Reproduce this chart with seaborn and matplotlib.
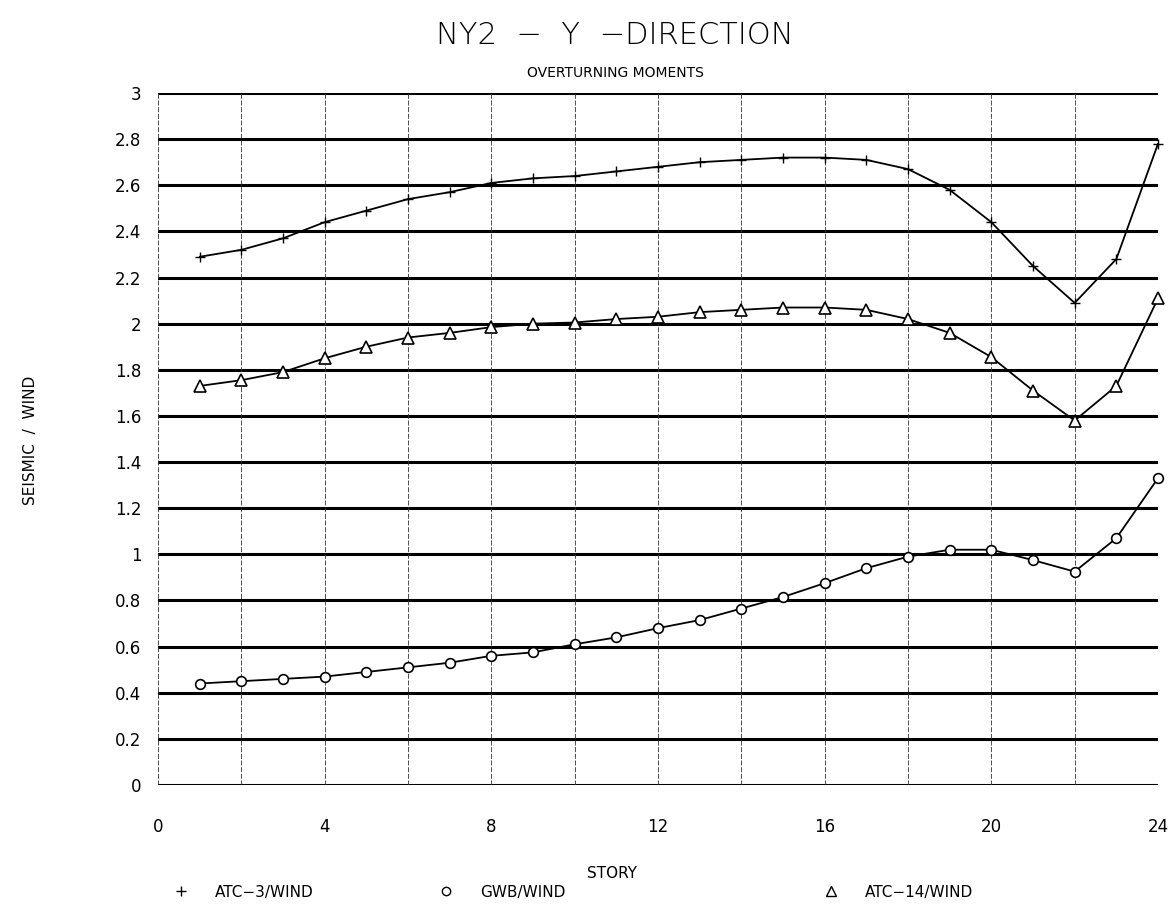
import numpy as np
import pandas as pd
import seaborn as sns
import matplotlib.pyplot as plt
from matplotlib.lines import Line2D

# values
story = list(range(1, 25))
atc3 = [2.29, 2.32, 2.37, 2.44, 2.49, 2.54, 2.57, 2.61, 2.63, 2.64, 2.66, 2.68,
        2.70, 2.71, 2.72, 2.72, 2.71, 2.67, 2.58, 2.44, 2.25, 2.09, 2.28, 2.78]
gwb = [0.44, 0.45, 0.46, 0.47, 0.49, 0.51, 0.53, 0.56, 0.575, 0.61, 0.64, 0.68,
       0.715, 0.765, 0.815, 0.875, 0.94, 0.99, 1.02, 1.02, 0.975, 0.925, 1.07, 1.33]
atc14 = [1.73, 1.755, 1.79, 1.85, 1.90, 1.94, 1.96, 1.985, 2.00, 2.005, 2.02, 2.03,
         2.05, 2.06, 2.07, 2.07, 2.06, 2.02, 1.96, 1.855, 1.71, 1.58, 1.73, 2.11]
labels = ['ATC\u22123/WIND', 'GWB/WIND', 'ATC\u221214/WIND']

df = pd.DataFrame({'story': story, 'atc3': atc3, 'gwb': gwb, 'atc14': atc14})

sns.set_style("white")
plt.rcParams['font.family'] = ['DejaVu Sans']
plt.rcParams['text.color'] = 'black'
plt.rcParams['xtick.color'] = 'black'
plt.rcParams['ytick.color'] = 'black'

fig = plt.figure(figsize=(11.69, 9.05), dpi=100)
ax = fig.add_axes([158/1169, 1 - 785/905, 1000/1169, 692/905])

sns.lineplot(data=df, x='story', y='atc3', ax=ax, color='black', lw=1.3,
             marker='+', markersize=7, mec='black', mew=1.0, clip_on=False)
sns.lineplot(data=df, x='story', y='atc14', ax=ax, color='black', lw=1.3,
             marker='^', markersize=8, mfc='white', mec='black', mew=1.2, clip_on=False)
sns.lineplot(data=df, x='story', y='gwb', ax=ax, color='black', lw=1.3,
             marker='o', markersize=7, mfc='white', mec='black', mew=1.2, clip_on=False)

ax.set_xlim(0, 24)
ax.set_ylim(0, 3)
ax.set_xticks(range(0, 25, 4))
ax.set_yticks(np.arange(0, 3.01, 0.2))
ax.set_yticklabels(['0', '0.2', '0.4', '0.6', '0.8', '1', '1.2', '1.4', '1.6',
                    '1.8', '2', '2.2', '2.4', '2.6', '2.8', '3'])
ax.tick_params(axis='x', length=0, pad=24, labelsize=12)
ax.tick_params(axis='y', length=0, pad=12, labelsize=12)

for y in np.arange(0, 3.01, 0.2):
    ax.axhline(y, color='black', lw=2.2, zorder=1)
for x in range(0, 25, 2):
    ax.axvline(x, color='#333333', lw=0.6, ls=(0, (6, 2)), zorder=1)

for s in ax.spines.values():
    s.set_visible(False)
ax.set_xlabel('')
ax.set_ylabel('')

fig.text(615/1169, 1 - 35/905, 'NY2  \u2212  Y  \u2212DIRECTION', ha='center', va='center',
         fontsize=22, fontweight='light')
fig.text(615/1169, 1 - 73/905, 'OVERTURNING MOMENTS', ha='center', va='center', fontsize=10)
fig.text(30/1169, 1 - 440/905, 'SEISMIC  /  WIND', rotation=90, ha='center', va='center',
         fontsize=11)
fig.text(612/1169, 1 - 873/905, 'STORY', ha='center', va='center', fontsize=11)

handles = [Line2D([], [], ls='none', marker='+', color='black', markersize=7),
           Line2D([], [], ls='none', marker='o', mfc='white', mec='black', markersize=6),
           Line2D([], [], ls='none', marker='^', mfc='white', mec='black', markersize=7)]
for h, lab, xpos in zip(handles, labels, [160, 425, 810]):
    fig.legend([h], [lab], loc='center left', bbox_to_anchor=(xpos/1169, 1 - 892/905),
               frameon=False, fontsize=11, handletextpad=1.2, borderaxespad=0)

fig.savefig('out.png', dpi=100)
